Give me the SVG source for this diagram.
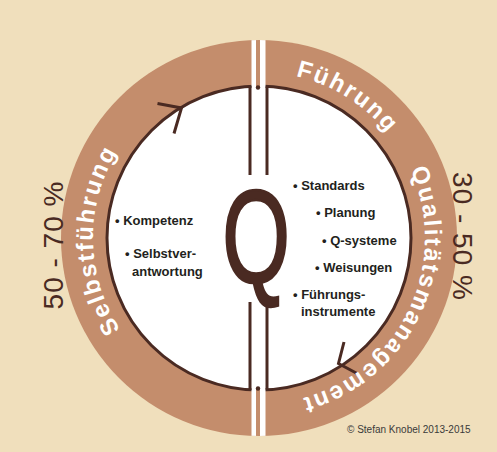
<svg xmlns="http://www.w3.org/2000/svg" width="497" height="452" viewBox="0 0 497 452">
<style>
.ringtxt{font-family:"Liberation Sans",Arial,sans-serif;font-weight:bold;font-size:24px;fill:#FFFFFF;letter-spacing:2px}
.pct{font-family:"Liberation Sans",Arial,sans-serif;font-size:28px;fill:#4A2A22;letter-spacing:1px}
.item{font-family:"Liberation Sans",Arial,sans-serif;font-weight:bold;font-size:13px;fill:#231F20}
.dark{stroke:#4A2A22;stroke-width:3;fill:none}
.disc{stroke:#4A2A22;stroke-width:3;fill:#FFFFFF}
.copy{font-family:"Liberation Sans",Arial,sans-serif;font-size:10px;fill:#3A3A3A}
</style>
<defs>
<clipPath id="outerClip"><circle cx="259" cy="238" r="198"/></clipPath>
<path id="tp" d="M 259 72 A 166 166 0 1 1 259 404 A 166 166 0 1 1 259 72"/>
</defs>
<rect x="0" y="0" width="497" height="452" fill="#F0DFBC"/>
<g id="ring">
<circle cx="259" cy="238" r="198" fill="#C48D6C"/>
</g>
<g id="inner">
<circle cx="259" cy="238" r="152" class="disc"/>
</g>
<g id="split" clip-path="url(#outerClip)">
<rect x="251.5" y="38" width="14" height="402" fill="#FFFFFF"/>
<rect x="256" y="38" width="4" height="49" fill="#C48D6C"/>
<rect x="256" y="389" width="4" height="51" fill="#C48D6C"/>
<circle cx="258" cy="87.5" r="2.2" fill="#4A2A22"/>
<circle cx="258" cy="388.5" r="2.2" fill="#4A2A22"/>
</g>
<g id="connectors">
<line class="dark" x1="250" y1="86" x2="250" y2="175"/>
<line class="dark" x1="267" y1="86.5" x2="267" y2="175"/>
<line class="dark" x1="250" y1="302" x2="250" y2="390"/>
<line class="dark" x1="267" y1="302" x2="267" y2="389.5"/>
<polyline class="dark" points="157.5,103.5 181.5,108 174,133.5"/>
<polyline class="dark" points="344,342 338.5,363.5 358,374"/>
</g>
<g id="q">
<text transform="translate(256,282) scale(0.66,1)" x="0" y="0" text-anchor="middle" font-family="Liberation Sans, Arial, sans-serif" font-size="132" fill="#4A2A22" stroke="#4A2A22" stroke-width="2.5">Q</text>
</g>
<g id="ring-labels">
<text class="ringtxt"><textPath href="#tp" startOffset="92.7" text-anchor="middle">Führung</textPath></text>
<text class="ringtxt"><textPath href="#tp" startOffset="334.6" text-anchor="middle">Qualitätsmanagement</textPath></text>
<text class="ringtxt"><textPath href="#tp" startOffset="779.4" text-anchor="middle">Selbstführung</textPath></text>
</g>
<g id="percent">
<text class="pct" transform="translate(63,245) rotate(-90)" text-anchor="middle">50 - 70 %</text>
<text class="pct" transform="translate(453,236.5) rotate(90)" text-anchor="middle">30 - 50 %</text>
</g>
<g id="left-items">
<text class="item" x="115" y="225">• Kompetenz</text>
<text class="item" x="125" y="258">• Selbstver-</text>
<text class="item" x="132" y="276">antwortung</text>
</g>
<g id="right-items">
<text class="item" x="293" y="189.5">• Standards</text>
<text class="item" x="316" y="217">• Planung</text>
<text class="item" x="322" y="244.5">• Q-systeme</text>
<text class="item" x="315" y="272">• Weisungen</text>
<text class="item" x="293" y="299">• Führungs-</text>
<text class="item" x="301" y="316">instrumente</text>
</g>
<text class="copy" x="347" y="433">© Stefan Knobel 2013-2015</text>
</svg>
